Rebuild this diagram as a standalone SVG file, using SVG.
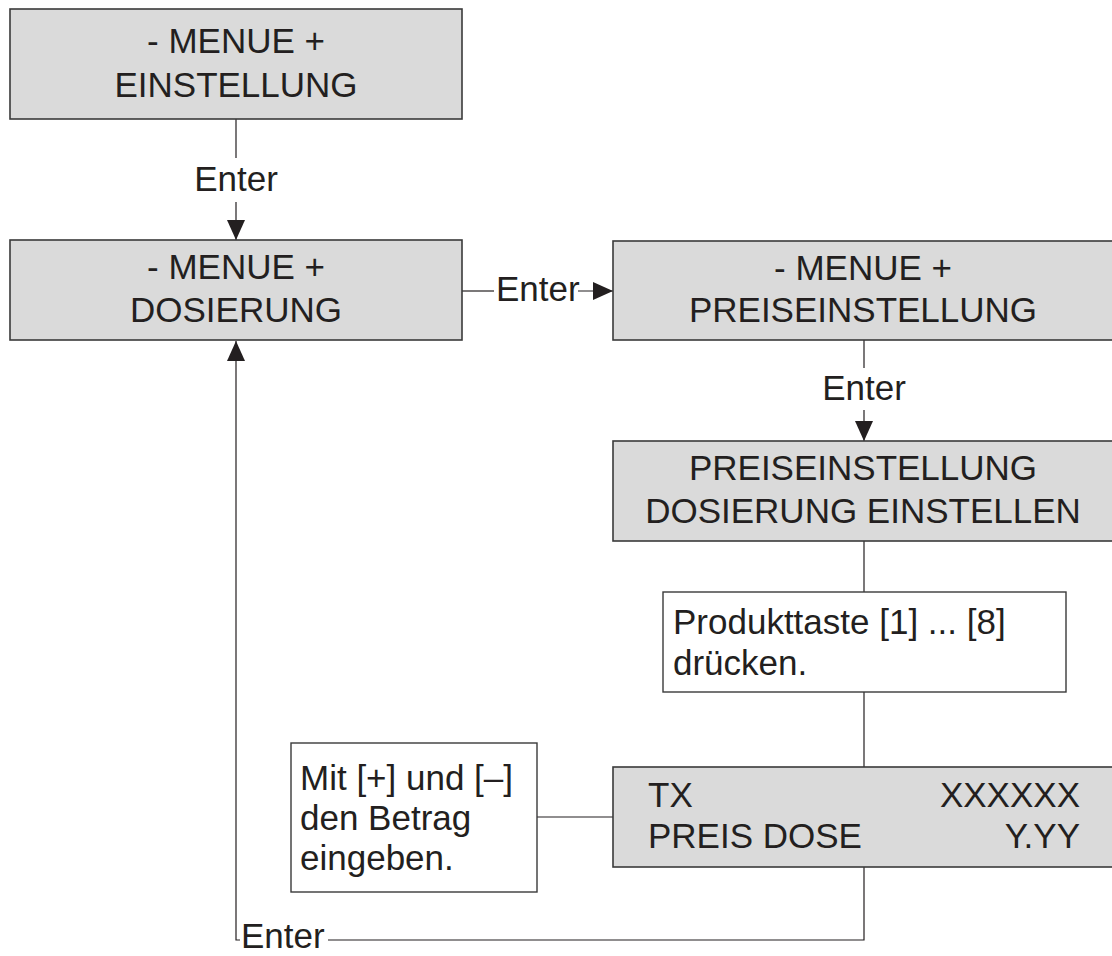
<svg xmlns="http://www.w3.org/2000/svg" width="1112" height="956" viewBox="0 0 1112 956">
<style>
.box{fill:#dadada;stroke:#3a3a3a;stroke-width:1.6}
.note{fill:#ffffff;stroke:#3a3a3a;stroke-width:1.4}
.t{font-family:"Liberation Sans",Arial,sans-serif;font-size:35px;fill:#231f20}
.c{text-anchor:middle}
.r{text-anchor:end}
.ln{fill:none;stroke:#231f20;stroke-width:1.2}
</style>
<defs>
<marker id="ah" viewBox="0 0 20 18" refX="20" refY="9" markerWidth="20" markerHeight="18" markerUnits="userSpaceOnUse" orient="auto">
<path d="M0,0 L20,9 L0,18 Z" fill="#231f20"/>
</marker>
</defs>
<rect width="1112" height="956" fill="#ffffff"/>
<g id="connectors">
<line class="ln" x1="236" y1="119" x2="236" y2="158"/>
<text class="t c" x="236" y="191">Enter</text>
<line class="ln" x1="236" y1="202" x2="236" y2="240" marker-end="url(#ah)"/>
<line class="ln" x1="462" y1="291" x2="494" y2="291"/>
<text class="t" x="496" y="301">Enter</text>
<line class="ln" x1="578" y1="291" x2="613" y2="291" marker-end="url(#ah)"/>
<line class="ln" x1="864" y1="340" x2="864" y2="368"/>
<text class="t c" x="864" y="400">Enter</text>
<line class="ln" x1="864" y1="410" x2="864" y2="441" marker-end="url(#ah)"/>
<line class="ln" x1="864" y1="541" x2="864" y2="592"/>
<line class="ln" x1="864" y1="692" x2="864" y2="767"/>
<line class="ln" x1="537" y1="817" x2="613" y2="817"/>
<polyline class="ln" points="864,867 864,940 328,940"/>
<text class="t" x="241" y="948">Enter</text>
<polyline class="ln" points="240,940 236,940 236,341" marker-end="url(#ah)"/>
</g>
<g id="n1">
<rect class="box" x="10" y="9" width="452" height="110"/>
<text class="t c" x="236" y="53">- MENUE +</text>
<text class="t c" x="236" y="97">EINSTELLUNG</text>
</g>
<g id="n2">
<rect class="box" x="10" y="240" width="452" height="100"/>
<text class="t c" x="236" y="279">- MENUE +</text>
<text class="t c" x="236" y="322">DOSIERUNG</text>
</g>
<g id="n3">
<rect class="box" x="613" y="241" width="500" height="99"/>
<text class="t c" x="863" y="280">- MENUE +</text>
<text class="t c" x="863" y="322">PREISEINSTELLUNG</text>
</g>
<g id="n4">
<rect class="box" x="613" y="441" width="500" height="100"/>
<text class="t c" x="863" y="480">PREISEINSTELLUNG</text>
<text class="t c" x="863" y="523">DOSIERUNG EINSTELLEN</text>
</g>
<g id="n5">
<rect class="note" x="663" y="592" width="403" height="100"/>
<text class="t" x="673" y="634">Produkttaste [1] ... [8]</text>
<text class="t" x="673" y="675">drücken.</text>
</g>
<g id="n6">
<rect class="box" x="613" y="767" width="500" height="100"/>
<text class="t" x="648" y="807">TX</text>
<text class="t r" x="1080" y="807">XXXXXX</text>
<text class="t" x="648" y="848">PREIS DOSE</text>
<text class="t r" x="1080" y="848">Y.YY</text>
</g>
<g id="n7">
<rect class="note" x="291" y="743" width="246" height="149"/>
<text class="t" x="300" y="790">Mit [+] und [–]</text>
<text class="t" x="300" y="830">den Betrag</text>
<text class="t" x="300" y="870">eingeben.</text>
</g>
</svg>
